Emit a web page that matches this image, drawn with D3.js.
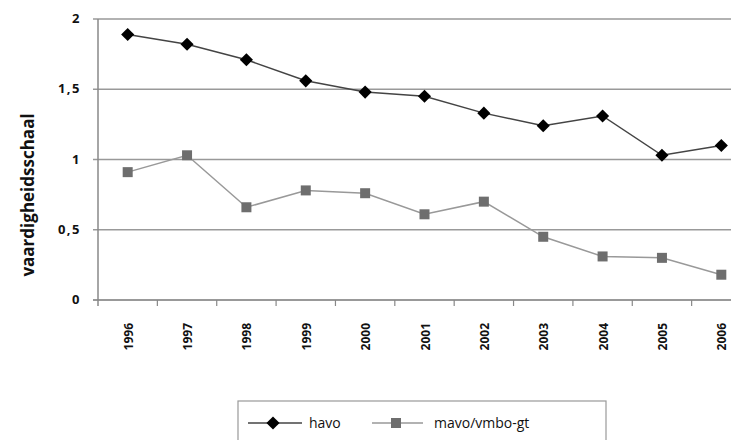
<!DOCTYPE html>
<html>
<head>
<meta charset="utf-8">
<script src="https://cdn.jsdelivr.net/npm/d3@7"></script>
<style>
  body { margin: 0; background: #fff; }
  svg { display: block; }
  text { font-family: "Open Sans", "DejaVu Sans", sans-serif; }
</style>
</head>
<body>
<div id="chart"></div>
<script>
// years on the x axis
const years = ["1996", "1997", "1998", "1999", "2000", "2001", "2002", "2003", "2004", "2005", "2006"];
// havo scores
const havo = [1.89, 1.82, 1.71, 1.56, 1.48, 1.45, 1.33, 1.24, 1.31, 1.03, 1.10];
// mavo/vmbo-gt scores
const mavo = [0.91, 1.03, 0.66, 0.78, 0.76, 0.61, 0.70, 0.45, 0.31, 0.30, 0.18];
const yTicks = [0, 0.5, 1, 1.5, 2];
const yTickLabels = ["0", "0,5", "1", "1,5", "2"];
const seriesNames = ["havo", "mavo/vmbo-gt"];

const width = 731, height = 440;
const margin = { top: 19, left: 98, bottom: 300 };
// the band runs past the right edge of the picture, as in the original
const xRight = 751;

const svg = d3.select("#chart").append("svg")
    .attr("width", width)
    .attr("height", height);

const x = d3.scaleBand().domain(years).range([margin.left, xRight]);
const y = d3.scaleLinear().domain([0, 2]).range([margin.bottom, margin.top]);

// gridlines, with a small stub left of the axis
svg.append("g")
  .selectAll("line")
  .data(yTicks)
  .join("line")
    .attr("x1", margin.left - 5)
    .attr("x2", width)
    .attr("y1", d => y(d))
    .attr("y2", d => y(d))
    .attr("stroke", d => d === 0 ? "#777" : "#999")
    .attr("stroke-width", 1.5);

// y axis line
svg.append("line")
    .attr("x1", margin.left).attr("x2", margin.left)
    .attr("y1", y(2)).attr("y2", y(0) + 6)
    .attr("stroke", "#888").attr("stroke-width", 1.5);

// x tick marks at band boundaries
svg.append("g")
  .selectAll("line")
  .data(years.slice(1))
  .join("line")
    .attr("x1", d => x(d)).attr("x2", d => x(d))
    .attr("y1", y(0)).attr("y2", y(0) + 6)
    .attr("stroke", "#888").attr("stroke-width", 1.2);

// y tick labels
svg.append("g")
  .selectAll("text")
  .data(yTicks)
  .join("text")
    .attr("x", 81)
    .attr("y", d => y(d) + 4)
    .attr("text-anchor", "end")
    .attr("font-size", 13)
    .attr("font-weight", "bold")
    .attr("letter-spacing", 1.5)
    .attr("fill", "#111")
    .text((d, i) => yTickLabels[i]);

// x tick labels, rotated
svg.append("g")
  .selectAll("text")
  .data(years)
  .join("text")
    .attr("transform", d => `translate(${x(d) + x.bandwidth() / 2 + 5},323) rotate(-90)`)
    .attr("text-anchor", "end")
    .attr("font-size", 12)
    .attr("font-weight", "bold")
    .attr("fill", "#111")
    .text(d => d);

// y axis title
svg.append("text")
    .attr("transform", "translate(34,195) rotate(-90)")
    .attr("text-anchor", "middle")
    .attr("font-size", 17)
    .attr("font-weight", "bold")
    .attr("fill", "#111")
    .text("vaardigheidsschaal");

const line = d3.line()
    .x((d, i) => x(years[i]) + x.bandwidth() / 2)
    .y(d => y(d));

// mavo series
svg.append("path")
    .datum(mavo)
    .attr("d", line)
    .attr("fill", "none")
    .attr("stroke", "#999")
    .attr("stroke-width", 1.5);

svg.append("g")
  .selectAll("rect")
  .data(mavo)
  .join("rect")
    .attr("x", (d, i) => x(years[i]) + x.bandwidth() / 2 - 5)
    .attr("y", d => y(d) - 5)
    .attr("width", 10)
    .attr("height", 10)
    .attr("fill", "#6e6e6e");

// havo series
svg.append("path")
    .datum(havo)
    .attr("d", line)
    .attr("fill", "none")
    .attr("stroke", "#444")
    .attr("stroke-width", 1.5);

const diamond = d3.symbol().type(d3.symbolDiamond2).size(110);
svg.append("g")
  .selectAll("path")
  .data(havo)
  .join("path")
    .attr("transform", (d, i) => `translate(${x(years[i]) + x.bandwidth() / 2},${y(d)})`)
    .attr("d", diamond)
    .attr("fill", "#000");

// legend
const legend = svg.append("g");
legend.append("rect")
    .attr("x", 238).attr("y", 401)
    .attr("width", 368).attr("height", 50)
    .attr("fill", "none")
    .attr("stroke", "#999")
    .attr("stroke-width", 1.2);

legend.append("line")
    .attr("x1", 248).attr("x2", 302).attr("y1", 423).attr("y2", 423)
    .attr("stroke", "#444").attr("stroke-width", 1.5);
legend.append("path")
    .attr("transform", "translate(273,423)")
    .attr("d", diamond)
    .attr("fill", "#000");
legend.append("text")
    .attr("x", 309).attr("y", 428)
    .attr("font-size", 14)
    .attr("fill", "#111")
    .text(seriesNames[0]);

legend.append("line")
    .attr("x1", 372).attr("x2", 423).attr("y1", 423).attr("y2", 423)
    .attr("stroke", "#999").attr("stroke-width", 1.5);
legend.append("rect")
    .attr("x", 391).attr("y", 418).attr("width", 10).attr("height", 10)
    .attr("fill", "#6e6e6e");
legend.append("text")
    .attr("x", 434).attr("y", 428)
    .attr("font-size", 14)
    .attr("fill", "#111")
    .text(seriesNames[1]);
</script>
</body>
</html>
